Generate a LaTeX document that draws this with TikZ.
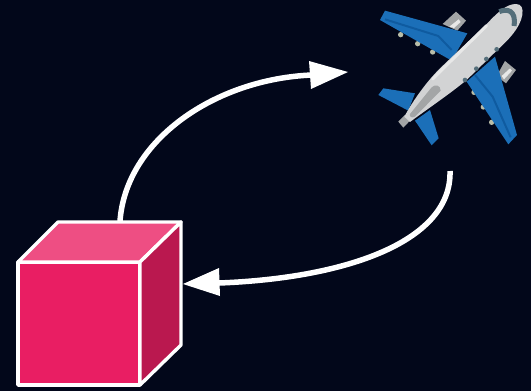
\documentclass[tikz,border=0pt]{standalone}
\definecolor{bgc}{HTML}{02071A}
\definecolor{front}{HTML}{E91E63}
\definecolor{topf}{HTML}{EE4E83}
\definecolor{sidef}{HTML}{BA184F}
\definecolor{wing}{HTML}{1B6FB8}
\definecolor{wingd}{HTML}{0F5BA0}
\definecolor{body}{HTML}{D2D3D4}
\definecolor{bodyl}{HTML}{E8E8E8}
\definecolor{grayd}{HTML}{A3A5A6}
\definecolor{slate}{HTML}{546E7A}
\definecolor{pod}{HTML}{B9BDA8}
\tikzset{
 face/.style={draw=white,line width=3.4pt,line join=round},
 curve/.style={draw=white,line width=5.5pt},
 head/.style={fill=white,draw=none}
}
\begin{document}
\begin{tikzpicture}[x=1pt,y=-1pt]
\useasboundingbox (0,0) rectangle (531,391);
\fill[bgc] (0,0) rectangle (531,391);
% cube
\coordinate (fa) at (18,262);
\coordinate (fb) at (140,262);
\coordinate (fc) at (140,385);
\coordinate (fd) at (18,385);
\coordinate (ba) at (58,222);
\coordinate (bb) at (181,222);
\coordinate (bc) at (181,345);
% arrows
\coordinate (a1s) at (120,221);
\coordinate (a1e) at (312,75);
\coordinate (a1t) at (348,72);
\coordinate (a2s) at (450,171);
\coordinate (a2e) at (219,283);
\coordinate (a2t) at (183,284);
\draw[curve] (a1s) .. controls (126,140) and (215,79) .. (a1e);
\fill[head] (309,61) -- (a1t) -- (311,89) -- cycle;
\draw[curve] (a2s) .. controls (452,240) and (350,278) .. (a2e);
\fill[head] (219,268) -- (a2t) -- (220,296) -- cycle;
\path[face,fill=front] (fa) -- (fb) -- (fc) -- (fd) -- cycle;
\path[face,fill=topf] (fa) -- (ba) -- (bb) -- (fb) -- cycle;
\path[face,fill=sidef] (fb) -- (bb) -- (bc) -- (fc) -- cycle;
% plane (drawn in 3x crop coordinates)
\begin{scope}[shift={(370,0)},x=0.3333pt,y=-0.3333pt]
 % engines
 \fill[grayd] (218,72) -- (258,35) -- (288,62) -- (262,92) -- cycle;
 \fill[grayd] (380,228) -- (405,183) -- (438,210) -- (408,250) -- cycle;
 \fill[bodyl] (238,80) -- (266,58) -- (272,66) -- (252,84) -- cycle;
 \fill[bodyl] (395,228) -- (420,205) -- (426,212) -- (402,238) -- cycle;
 % pods
 \foreach \px/\py in {92/104,143/131,188/156,312/277,340/321,365/367}
  \fill[pod] (\px,\py) circle (8);
 % tail planes
 \fill[wing] (25,285) -- (40,265) -- (135,280) -- (115,332) -- cycle;
 \fill[wing] (135,362) -- (180,330) -- (206,415) -- (185,436) -- cycle;
 % wings
 \fill[wing] (30,60) -- (45,32) -- (292,100) -- (245,182) -- cycle;
 \fill[wing] (375,170) -- (441,405) -- (415,433) -- (290,245) -- cycle;
 \draw[wingd,line width=2pt] (45,58) -- (205,108) -- (245,150);
 \draw[wingd,line width=2pt] (315,225) -- (368,290) -- (422,412);
 % tail cone
 \fill[grayd] (85,365) -- (105,345) -- (120,362) -- (100,383) -- cycle;
 % fuselage
 \fill[body] (103,350) .. controls (130,300) and (170,245) .. (210,205)
   -- (350,72) .. controls (385,35) and (410,12) .. (438,12)
   .. controls (455,12) and (460,25) .. (457,45)
   .. controls (450,85) and (415,120) .. (380,152)
   -- (290,240) .. controls (235,285) and (175,325) .. (120,366) -- cycle;
 % light strip
 \draw[bodyl,line width=3pt,line cap=round] (188,237) -- (350,77);
 % window
 \fill[grayd] (120,342) -- (185,262) .. controls (195,252) and (212,255) .. (212,272)
   -- (135,350) .. controls (125,355) and (117,350) .. (120,342) -- cycle;
 % cockpit
 \draw[slate,line width=5pt] (388,35) .. controls (410,25) and (440,30) .. (432,78);
 % wing roots
 \foreach \qx/\qy in {285/240,319/206,349/177,380/148}
  \fill[slate] (\qx,\qy) circle (7);
\end{scope}
\end{tikzpicture}
\end{document}
